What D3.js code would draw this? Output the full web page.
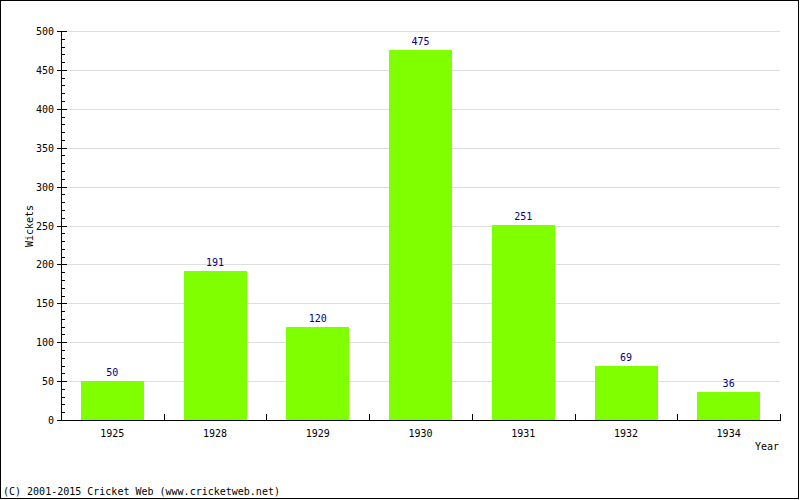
<!DOCTYPE html>
<html><head><meta charset="utf-8">
<script src="https://cdn.jsdelivr.net/npm/d3@7/dist/d3.min.js"></script>
<style>body{margin:0;background:#fff}svg{display:block}text{font-family:"DejaVu Sans Mono",monospace;font-size:10px}</style>
</head><body>
<script>
const years = ["1925","1928","1929","1930","1931","1932","1934"];
const wickets = [50,191,120,475,251,69,36];
const yTicks = [0,50,100,150,200,250,300,350,400,450,500];

const W=800,H=500;
const svg=d3.select("body").append("svg").attr("width",W).attr("height",H);
svg.append("rect").attr("x",0.5).attr("y",0.5).attr("width",W-2).attr("height",H-2).attr("fill","#fff").attr("stroke","#000");

const pL=61,pR=780,pT=31,pB=420;
const x=d3.scaleBand().domain(years).range([pL,pR]).paddingInner(0.39).paddingOuter(0.195);
const xb=d3.scaleBand().domain(years).range([pL,pR]);
const y=d3.scaleLinear().domain([0,500]).range([pB,pT]);

// grid
svg.append("g").selectAll("line").data(yTicks.filter(d=>d>0)).join("line")
 .attr("x1",pL).attr("x2",pR).attr("y1",d=>Math.round(y(d))+0.5).attr("y2",d=>Math.round(y(d))+0.5)
 .attr("stroke","#dddddd");

// bars
svg.append("g").selectAll("rect").data(years).join("rect")
 .attr("x",d=>Math.round(x(d))).attr("width",Math.round(x.bandwidth()))
 .attr("y",(d,i)=>Math.round(y(wickets[i]))).attr("height",(d,i)=>pB-Math.round(y(wickets[i])))
 .attr("fill","#80ff00");

// value labels
svg.append("g").selectAll("text").data(years).join("text")
 .attr("x",d=>x(d)+x.bandwidth()/2).attr("y",(d,i)=>y(wickets[i])-5)
 .attr("text-anchor","middle").attr("fill","#000080").text((d,i)=>wickets[i]);

// y axis
const ya=svg.append("g");
ya.append("line").attr("x1",pL+0.5).attr("x2",pL+0.5).attr("y1",pT).attr("y2",pB+1).attr("stroke","#000");
const minor=d3.range(0,501,10);
ya.selectAll("line.m").data(minor).join("line").attr("class","m")
 .attr("x1",d=>d%50===0?pL-4:pL).attr("x2",d=>d%50===0?pL+6:pL+4)
 .attr("y1",d=>Math.round(y(d))+0.5).attr("y2",d=>Math.round(y(d))+0.5).attr("stroke","#000");
ya.selectAll("text").data(yTicks).join("text")
 .attr("x",pL-7).attr("y",d=>y(d)+4).attr("text-anchor","end").attr("fill","#000").text(d=>d);

// x axis
const xa=svg.append("g");
xa.append("line").attr("x1",pL).attr("x2",pR+1).attr("y1",pB+0.5).attr("y2",pB+0.5).attr("stroke","#000");
const bounds=years.map(d=>xb(d)).slice(1).concat([pR]);
xa.selectAll("line.t").data(bounds).join("line").attr("class","t")
 .attr("x1",d=>Math.round(d)+0.5).attr("x2",d=>Math.round(d)+0.5).attr("y1",pB-6).attr("y2",pB).attr("stroke","#000");
xa.selectAll("text").data(years).join("text")
 .attr("x",d=>xb(d)+xb.bandwidth()/2).attr("y",437).attr("text-anchor","middle").attr("fill","#000").text(d=>d);

svg.append("text").attr("x",779).attr("y",450).attr("text-anchor","end").text("Year");
svg.append("text").attr("transform","translate(33,226) rotate(-90)").attr("text-anchor","middle").text("Wickets");
svg.append("text").attr("x",3).attr("y",495).text("(C) 2001-2015 Cricket Web (www.cricketweb.net)");
</script>
</body></html>
